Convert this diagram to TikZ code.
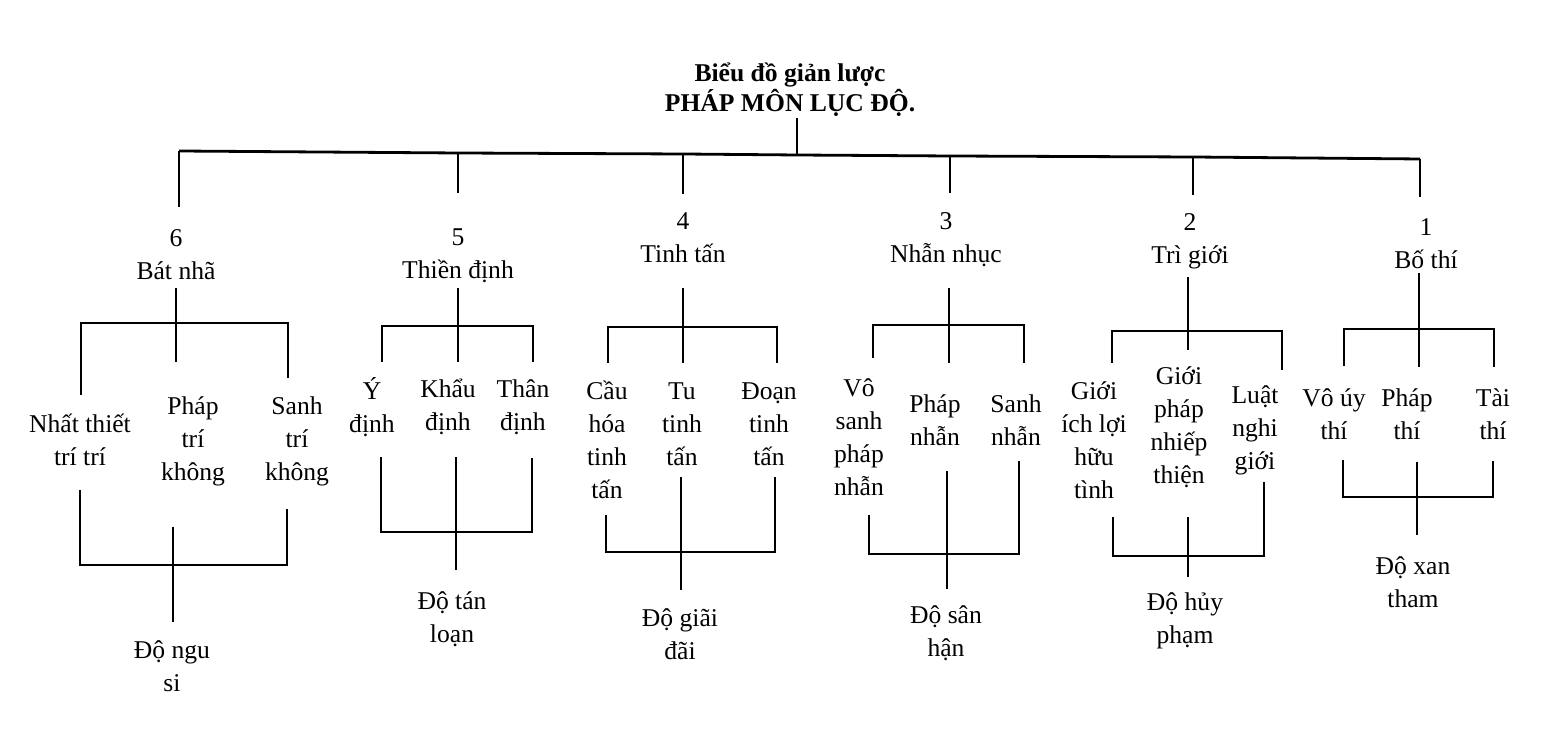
\documentclass[tikz,border=0pt]{standalone}
\usepackage{fontspec}
\setmainfont{Liberation Serif}
\begin{document}
\begin{tikzpicture}[x=0.5pt,y=-0.5pt,line width=1pt,
	every node/.style={align=center,inner sep=0pt,font=\fontsize{12.8}{16.5}\selectfont},
	titletext/.style={font=\bfseries\fontsize{12.8}{15}\selectfont}]
	\useasboundingbox (0,0) rectangle (1557,747);
	% title
	\node (T) at (790,90) [titletext] {Biểu đồ giản lược\\PHÁP MÔN LỤC ĐỘ.};
	% the six paramitas
	\node (g6) at ( 176,255) {6\\Bát nhã};
	\node (g5) at ( 458,256) {5\\Thiền định};
	\node (g4) at ( 683,238) {4\\Tinh tấn};
	\node (g3) at ( 946,240) {3\\Nhẫn nhục};
	\node (g2) at (1190,241) {2\\Trì giới};
	\node (g1) at (1426,244) {1\\Bố thí};
	% children
	\node (c61) at (  80,440) {Nhất thiết\\trí trí};
	\node (c62) at ( 193,441) {Pháp\\trí\\không};
	\node (c63) at ( 297,441) {Sanh\\trí\\không};
	\node (c51) at ( 372,407) {Ý\\định};
	\node (c52) at ( 448,407) {Khẩu\\định};
	\node (c53) at ( 523,407) {Thân\\định};
	\node (c41) at ( 607,440) {Cầu\\hóa\\tinh\\tấn};
	\node (c42) at ( 682,424) {Tu\\tinh\\tấn};
	\node (c43) at ( 769,424) {Đoạn\\tinh\\tấn};
	\node (c31) at ( 859,437) {Vô\\sanh\\pháp\\nhẫn};
	\node (c32) at ( 935,420) {Pháp\\nhẫn};
	\node (c33) at (1016,420) {Sanh\\nhẫn};
	\node (c21) at (1094,440) {Giới\\ích lợi\\hữu\\tình};
	\node (c22) at (1179,427) {Giới\\pháp\\nhiếp\\thiện};
	\node (c23) at (1255,430) {Luật\\nghi\\giới};
	\node (c11) at (1334,414) {Vô úy\\thí};
	\node (c12) at (1407,414) {Pháp\\thí};
	\node (c13) at (1493,414) {Tài\\thí};
	% what each one crosses over
	\node (r6) at ( 172,666) {Độ ngu\\si};
	\node (r5) at ( 452,619) {Độ tán\\loạn};
	\node (r4) at ( 680,634) {Độ giãi\\đãi};
	\node (r3) at ( 946,633) {Độ sân\\hận};
	\node (r2) at (1185,621) {Độ hủy\\phạm};
	\node (r1) at (1413,582) {Độ xan\\tham};
	% line ends
	\foreach \n/\x/\y in {t0/797/118, m0/797/155,
		m6/179/151, me6/179/207, m5/458/153, me5/458/193, m4/683/154, me4/683/194,
		m3/950/156, me3/950/193, m2/1193/157, me2/1193/195, m1/1420/159, me1/1420/197,
		s6/176/288, se6/176/362, L6/81/323, Le6/81/395, R6/288/323, Re6/288/378,
		s5/458/288, se5/458/362, L5/382/326, Le5/382/362, R5/533/326, Re5/533/362,
		s4/683/288, se4/683/363, L4/608/327, Le4/608/363, R4/777/327, Re4/777/363,
		s3/949/288, se3/949/363, L3/873/325, Le3/873/358, R3/1024/325, Re3/1024/363,
		s2/1188/277, se2/1188/350, L2/1112/331, Le2/1112/363, R2/1282/331, Re2/1282/370,
		s1/1419/273, se1/1419/367, L1/1344/329, Le1/1344/366, R1/1494/329, Re1/1494/367,
		u6/80/490, U6/80/565, V6/287/565, v6/287/509, w6/173/527, we6/173/622,
		u5/381/457, U5/381/532, V5/532/532, v5/532/458, w5/456/457, we5/456/570,
		u4/606/515, U4/606/552, V4/775/552, v4/775/477, w4/681/477, we4/681/590,
		u3/869/515, U3/869/554, V3/1019/554, v3/1019/461, w3/947/471, we3/947/589,
		u2/1113/517, U2/1113/556, V2/1264/556, v2/1264/482, w2/1188/517, we2/1188/577,
		u1/1343/460, U1/1343/497, V1/1493/497, v1/1493/461, w1/1417/462, we1/1417/535}
		\coordinate (\n) at (\x,\y);
	\draw (t0) -- (m0);
	\draw[line width=1.4pt] (m6) -- (m5) -- (m4) -- (m0) -- (m3) -- (m2) -- (m1);
	\foreach \k in {1,...,6} {
		\draw (m\k) -- (me\k);
		\draw (s\k) -- (se\k);
		\draw (Le\k) -- (L\k) -- (R\k) -- (Re\k);
		\draw (u\k) -- (U\k) -- (V\k) -- (v\k);
		\draw (w\k) -- (we\k);
	}
\end{tikzpicture}
\end{document}
